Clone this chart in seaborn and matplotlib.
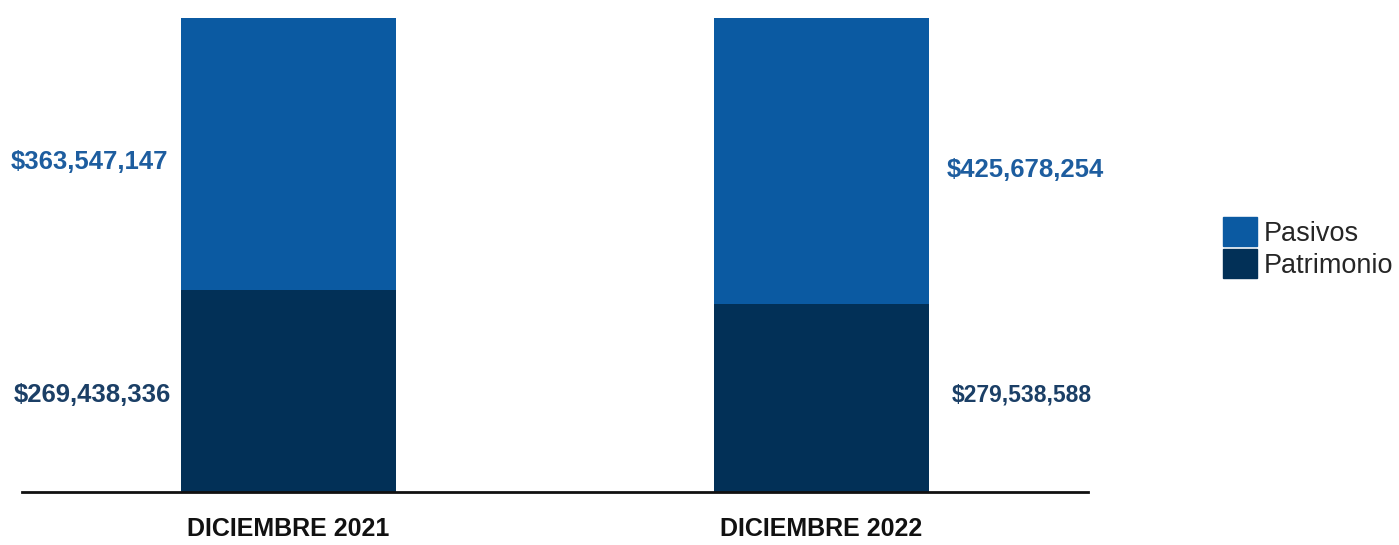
import matplotlib
matplotlib.use("Agg")
import matplotlib.pyplot as plt
import matplotlib.patches as mpatches
import seaborn as sns
import pandas as pd

periodos = ["DICIEMBRE 2021", "DICIEMBRE 2022"]
pasivos = [363547147, 425678254]
patrimonio = [269438336, 279538588]

df = pd.DataFrame({"periodo": periodos, "pasivos": pasivos, "patrimonio": patrimonio})
df["total"] = df["pasivos"] + df["patrimonio"]
df["pct_pat"] = df["patrimonio"] / df["total"] * 100
df["pct_tot"] = 100.0

c_pas = "#0b5aa2"
c_pat = "#023057"

sns.set_style("white")
plt.rcParams["font.family"] = ["Liberation Sans", "DejaVu Sans"]

fig = plt.figure(figsize=(13.99, 5.45), dpi=100)
ax = fig.add_axes([22 / 1399, 53 / 545, (1088 - 22) / 1399, (492 - 18) / 545])

# 100% stacked: total first, patrimonio drawn over it
sns.barplot(data=df, x="periodo", y="pct_tot", color=c_pas, width=0.405, ax=ax,
            saturation=1, linewidth=0)
sns.barplot(data=df, x="periodo", y="pct_pat", color=c_pat, width=0.405, ax=ax,
            saturation=1, linewidth=0)

ax.set_xlim(-0.5, 1.5)
ax.set_ylim(0, 100)
ax.set_xlabel("")
ax.set_ylabel("")
ax.set_yticks([])
for s in ["top", "left", "right"]:
    ax.spines[s].set_visible(False)
ax.spines["bottom"].set_color("#111111")
ax.spines["bottom"].set_linewidth(2)
ax.tick_params(axis="x", length=0, pad=18)
for t in ax.get_xticklabels():
    t.set_fontweight("bold")
    t.set_fontsize(18)
    t.set_color("#111111")

fmt = lambda v: "${:,}".format(v)
# 2021 labels to the left of the bar, 2022 to the right
ax.text(-0.225, 69.6, fmt(pasivos[0]), ha="right", va="center", fontsize=18.5,
        fontweight="bold", color="#1d5d9f")
ax.text(-0.22, 20.5, fmt(patrimonio[0]), ha="right", va="center", fontsize=18.5,
        fontweight="bold", color="#1b3f66")
ax.text(1.235, 68.0, fmt(pasivos[1]), ha="left", va="center", fontsize=18.5,
        fontweight="bold", color="#1d5d9f")
ax.text(1.245, 20.5, fmt(patrimonio[1]), ha="left", va="center", fontsize=16.5,
        fontweight="bold", color="#1b3f66")

handles = [mpatches.Patch(color=c_pas, label="Pasivos"),
           mpatches.Patch(color=c_pat, label="Patrimonio")]
fig.legend(handles=handles, loc="center left", bbox_to_anchor=(1212 / 1399, 1 - 248 / 545),
           frameon=False, handlelength=1.25, handleheight=1.25,
           handletextpad=0.25, labelspacing=0.1, borderaxespad=0,
           prop={"family": ["Liberation Sans", "DejaVu Sans"], "size": 19.5})

fig.savefig("out.png", dpi=100)
